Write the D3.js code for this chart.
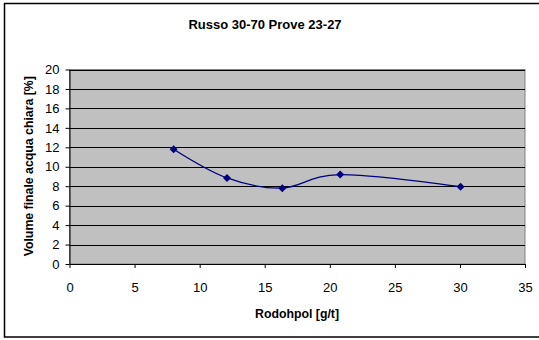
<!DOCTYPE html>
<html><head><meta charset="utf-8">
<script src="https://cdn.jsdelivr.net/npm/d3@7"></script>
<style>body{margin:0;background:#fff}svg{display:block}text{font-family:"Liberation Sans",Arial,sans-serif}</style>
</head><body>
<script>
const xValues = [8, 12.1, 16.35, 20.8, 30.05];
const yValues = [11.8, 8.85, 7.8, 9.2, 7.95];
const xTicks = [0,5,10,15,20,25,30,35];
const yTicks = [0,2,4,6,8,10,12,14,16,18,20];
const title = "Russo 30-70 Prove 23-27";
const xLabel = "Rodohpol [g/t]";
const yLabel = "Volume finale acqua chiara [%]";

const W=539,H=340;
const svg=d3.select("body").append("svg").attr("width",W).attr("height",H);
svg.append("rect").attr("x",4.5).attr("y",3.5).attr("width",W).attr("height",333.5).attr("fill","#fff").attr("stroke","#000").attr("stroke-width",1.5);

const L=69.5,R=525,T=69.5,B=264;
const x=d3.scaleLinear().domain([0,35]).range([L,R]);
const y=d3.scaleLinear().domain([0,20]).range([B,T]);

svg.append("rect").attr("x",L).attr("y",T).attr("width",R-L).attr("height",B-T).attr("fill","#C0C0C0").attr("stroke","#808080");
svg.append("g").selectAll("line").data(yTicks.filter(d=>d>0)).join("line")
 .attr("x1",L).attr("x2",R).attr("y1",d=>Math.round(y(d))+0.5).attr("y2",d=>Math.round(y(d))+0.5)
 .attr("stroke","#000").attr("stroke-width",1);

const xa=svg.append("g").attr("transform",`translate(0,${B})`).call(d3.axisBottom(x).tickValues(xTicks).tickSize(4).tickSizeOuter(0));
xa.select(".domain").attr("stroke","#000");
xa.selectAll("text").attr("font-size",13).attr("dy",null).attr("y",28).attr("fill","#000");
const ya=svg.append("g").attr("transform",`translate(${L},0)`).call(d3.axisLeft(y).tickValues(yTicks).tickSize(4).tickSizeOuter(0));
ya.select(".domain").attr("stroke","#000");
ya.selectAll("text").attr("font-size",13).attr("fill","#000").attr("x",-10);

svg.append("text").attr("x",265).attr("y",28.5).attr("text-anchor","middle").attr("font-size",13).attr("font-weight","bold").text(title);
svg.append("text").attr("x",297).attr("y",317.5).attr("text-anchor","middle").attr("font-size",12.3).attr("font-weight","bold").text(xLabel);
svg.append("text").attr("transform",`translate(32.5,${(T+B)/2-0.5}) rotate(-90)`).attr("text-anchor","middle").attr("font-size",12.3).attr("font-weight","bold").text(yLabel);

const pts=xValues.map((v,i)=>[x(v),y(yValues[i])]);
svg.append("path").attr("d",d3.line().curve(d3.curveCatmullRom.alpha(0))(pts)).attr("fill","none").attr("stroke","#000080").attr("stroke-width",1.3);
svg.append("g").selectAll("path").data(pts).join("path")
 .attr("transform",d=>`translate(${d[0]},${d[1]})`)
 .attr("d","M0,-4L4,0L0,4L-4,0Z").attr("fill","#000080");
</script>
</body></html>
